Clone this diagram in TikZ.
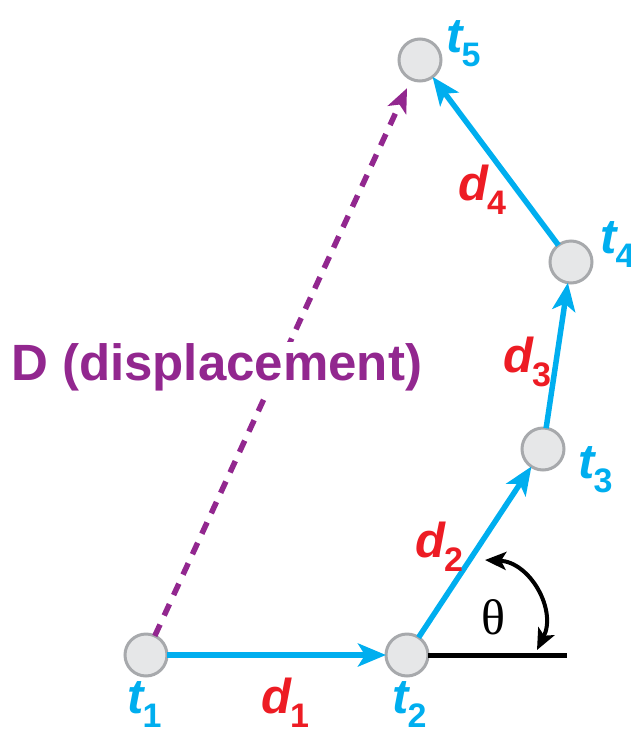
\documentclass[tikz,border=0pt]{standalone}
\usepackage{fontspec}
\setmainfont{Liberation Sans}
\newfontfamily\serifgr{Liberation Serif}
\usetikzlibrary{arrows.meta}
\definecolor{cblue}{HTML}{00AEEF}
\definecolor{cred}{HTML}{ED1C24}
\definecolor{cpurple}{HTML}{92278F}
\definecolor{cfill}{HTML}{E6E7E8}
\definecolor{cring}{HTML}{A7A9AC}
\newcommand{\mylab}[2]{{\fontsize{49}{49}\selectfont\bfseries\itshape #1}\kern-1pt\raisebox{-14pt}{\fontsize{34}{34}\selectfont\bfseries #2}}
\begin{document}
\begin{tikzpicture}[x=1pt,y=-1pt,
  ptnode/.style={circle,draw=cring,fill=cfill,line width=3pt,minimum size=42pt,inner sep=0pt,outer sep=0pt},
  seg/.style={draw=cblue,line width=5.5pt,-{Stealth[length=28pt,width=23pt,inset=7pt]}},
  tl/.style={text=cblue,anchor=base west,inner sep=0pt},
  dl/.style={text=cred,anchor=base west,inner sep=0pt}]
\useasboundingbox (0,0) rectangle (630,729);

% points
\node[ptnode] (t1) at (146,655) {};
\node[ptnode] (t2) at (407,655) {};
\node[ptnode] (t3) at (543,449) {};
\node[ptnode] (t4) at (571,262) {};
\node[ptnode] (t5) at (420,60) {};

% displacement
\draw[cpurple,line width=5.5pt,dash pattern=on 12.5pt off 10pt,shorten >=10pt,
      -{Stealth[length=24pt,width=20pt,inset=6pt]}] (t1) -- (t5);
\node[text=cpurple,anchor=base west,inner xsep=0pt,inner ysep=1pt,fill=white] (D) at (11,380)
  {\fontsize{51}{51}\selectfont\bfseries D (displacement)};

% steps
\draw[seg] (t1) -- (t2);
\draw[seg] (t2) -- (t3);
\draw[seg] (t3) -- (t4);
\draw[seg] (t4) -- (t5);

% horizontal reference and angle
\coordinate (hend) at (567,655);
\draw[line width=5pt] (t2) -- (hend);
\coordinate (a1) at (485,560);
\coordinate (a2) at (537,650);
\coordinate (c1) at (530,562);
\coordinate (c2) at (557,610);
\draw[line width=4pt,{Stealth[length=21pt,width=18pt,inset=5pt]}-{Stealth[length=21pt,width=18pt,inset=5pt]}]
  (a1) .. controls (c1) and (c2) .. (a2);
\node (theta) at (493,617) {\serifgr\fontsize{50}{50}\selectfont θ};

% labels
\node[tl] (lt1) at (127,713) {\mylab{t}{1}};
\node[tl] (lt2) at (392,713) {\mylab{t}{2}};
\node[tl] (lt3) at (578,478) {\mylab{t}{3}};
\node[tl] (lt4) at (600,253) {\mylab{t}{4}};
\node[tl] (lt5) at (446,52) {\mylab{t}{5}};
\node[dl] (ld1) at (261,713) {\mylab{d}{1}};
\node[dl] (ld2) at (415,557) {\mylab{d}{2}};
\node[dl] (ld3) at (503,372) {\mylab{d}{3}};
\node[dl] (ld4) at (458,200) {\mylab{d}{4}};
\end{tikzpicture}
\end{document}
